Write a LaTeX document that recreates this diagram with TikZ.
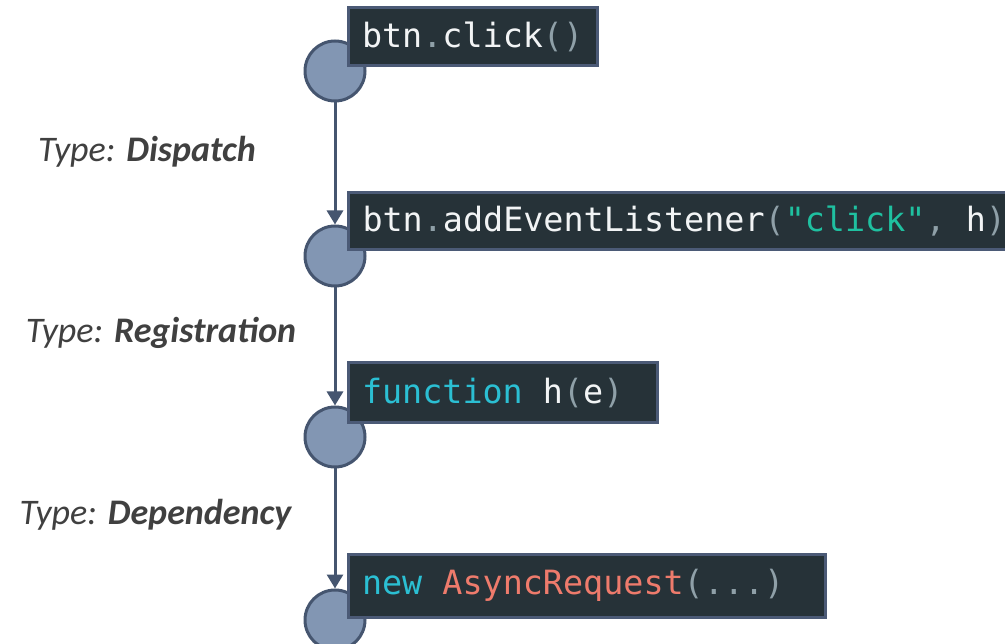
\documentclass[tikz,border=0pt]{standalone}
\usepackage{fontspec}
\setmainfont{Carlito}
\newfontfamily\codefont{DejaVu Sans Mono}
\usetikzlibrary{arrows.meta}

\definecolor{nodefill}{HTML}{8296B3}
\definecolor{nodeedge}{HTML}{45556F}
\definecolor{codebg}{HTML}{263238}
\definecolor{codeedge}{HTML}{4B5A76}
\definecolor{codetext}{HTML}{F2F4F5}
\definecolor{codepunct}{HTML}{8FA0A8}
\definecolor{codestring}{HTML}{1FC0A0}
\definecolor{codekw}{HTML}{2BBFD3}
\definecolor{codeclass}{HTML}{EE7B6C}
\definecolor{labeltext}{HTML}{404040}

\tikzset{
  callnode/.style={circle, draw=nodeedge, fill=nodefill, line width=3pt,
    minimum size=60pt, inner sep=0pt},
  codebox/.style={draw=codeedge, fill=codebg, line width=3pt, anchor=west,
    inner xsep=12pt, inner ysep=0pt, align=left, text=codetext,
    font=\codefont\fontsize{33.4}{36}\selectfont},
  edgelabel/.style={text=labeltext, font=\fontsize{36}{39}\selectfont\itshape},
  flow/.style={draw=nodeedge, line width=3pt,
    -{Triangle[length=14pt, width=16pt, fill=nodeedge]}},
}
% punctuation in code, and a fixed one-character space
\newcommand{\pn}[1]{\textcolor{codepunct}{#1}}
\newcommand{\cs}{\hbox to 0.602em{}}

\begin{document}
\begin{tikzpicture}[x=1pt, y=-1pt]
  \useasboundingbox (0,0) rectangle (1005,644);

  % call-chain nodes
  \node[callnode] (c1) at (335,71) {};
  \node[callnode] (c2) at (335,256) {};
  \node[callnode] (c3) at (335,437) {};
  \node[callnode] (c4) at (335,620) {};

  % edges between consecutive calls
  \draw[flow] (c1.south) -- (c2.north);
  \draw[flow] (c2.south) -- (c3.north);
  \draw[flow] (c3.south) -- (c4.north);

  % code snippets attached to each node
  \node[codebox, minimum width=249pt, minimum height=58pt, text width=222pt]
    (b1) at (347,37) {btn\pn{.}click\pn{()}};
  \node[codebox, minimum width=680pt, minimum height=57pt, text width=652pt]
    (b2) at (347,221.5) {btn\pn{.}addEventListener\pn{(}\textcolor{codestring}{"click"}\pn{,}\cs h\pn{)}};
  \node[codebox, minimum width=309pt, minimum height=60pt, text width=282pt]
    (b3) at (347,393) {\textcolor{codekw}{function}\cs h\pn{(}e\pn{)}};
  \node[codebox, minimum width=477pt, minimum height=63pt, text width=450pt]
    (b4) at (347,585.5) {\textcolor{codekw}{new}\cs\textcolor{codeclass}{AsyncRequest}\pn{(...)}};

  % edge type labels
  \node[edgelabel] (l1) at (147,152) {Type: \textbf{Dispatch}};
  \node[edgelabel] (l2) at (161,333) {Type: \textbf{Registration}};
  \node[edgelabel] (l3) at (155.5,515) {Type: \textbf{Dependency}};
\end{tikzpicture}
\end{document}
